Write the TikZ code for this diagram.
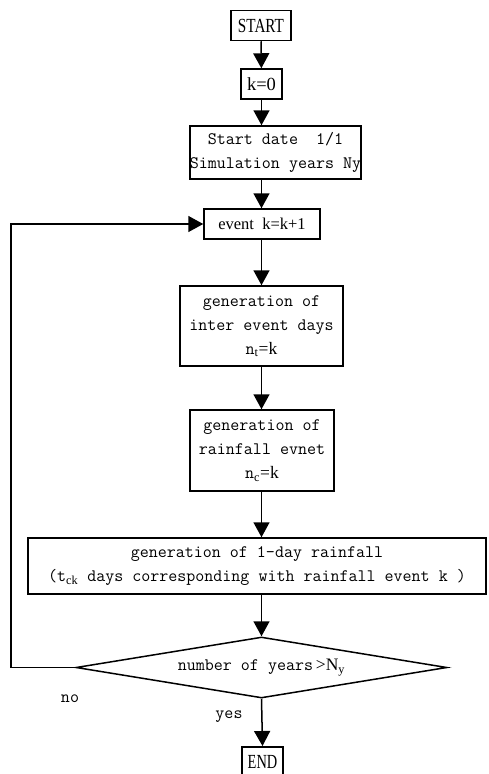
\documentclass[tikz,border=0pt]{standalone}
\usepackage{fontspec}
\newfontfamily\serif{Liberation Serif}
\usetikzlibrary{arrows.meta,shapes.geometric}
\begin{document}
\begin{tikzpicture}[x=1pt,y=-1pt,line width=1.5pt,
  box/.style={draw,inner sep=0pt,align=center,font=\ttfamily\fontsize{17.5}{24}\selectfont},
  sbox/.style={draw,inner sep=0pt,align=center,font=\serif\fontsize{16.5}{18}\selectfont},
  tbox/.style={sbox,font=\serif\fontsize{20}{20}\selectfont},
  arr/.style={-{Triangle[width=16pt,length=15pt]}},
  lbl/.style={font=\ttfamily\fontsize{17.5}{18}\selectfont,inner sep=0pt}]
\useasboundingbox (0,0) rectangle (488,774);
\node[tbox,minimum width=60pt,minimum height=30pt] (start) at (261,25.5) {\scalebox{0.76}[1]{START}};
\node[sbox,minimum width=41pt,minimum height=30pt,font=\serif\fontsize{18.5}{18}\selectfont] (k0) at (261.5,84) {k=0};
\node[box,minimum width=165pt,minimum height=53pt] (sd) at (275.5,152.5) {Start date\ \ 1/1\\Simulation years Ny};
\node[sbox,minimum width=116pt,minimum height=30pt] (ev) at (262,224) {event\ \ k=k+1};
\node[box,minimum width=163pt,minimum height=80pt] (g1) at (261.5,326) {generation of\\inter event days\\n{\serif\textsubscript{t}}{\serif =k}};
\node[box,minimum width=144pt,minimum height=81pt] (g2) at (262,450.5) {generation of\\rainfall evnet\\n{\serif\textsubscript{c}}{\serif =k}};
\node[box,minimum width=458pt,minimum height=56pt] (big) at (257,566) {generation of 1-day rainfall\\(t{\serif\textsubscript{ck}} days corresponding with rainfall event k )};
\node[draw,diamond,inner sep=0pt,minimum width=371pt,minimum height=61pt,aspect=6,font=\ttfamily\fontsize{17.5}{18}\selectfont] (dec) at (261.5,667.5) {number of years{\serif\,>}{\serif N\textsubscript{y}}};
\node[tbox,minimum width=41pt,minimum height=31pt,anchor=north] (end) at (262.5,746) {\scalebox{0.72}[1]{END}};
\coordinate (c1) at (11,667.5);
\coordinate (c2) at (11,224);
\draw[arr] (start) -- (k0);
\draw[arr] (k0) -- (k0 |- sd.north);
\draw[arr] (k0 |- sd.south) -- (k0 |- ev.north);
\draw[arr] (k0 |- ev.south) -- (k0 |- g1.north);
\draw[arr] (k0 |- g1.south) -- (k0 |- g2.north);
\draw[arr] (k0 |- g2.south) -- (k0 |- big.north);
\draw[arr] (k0 |- big.south) -- (dec.north);
\draw[arr] (dec.south) -- (end.north);
\draw[arr] (dec.west) -- (c1) -- (c2) -- (ev.west);
\node[lbl] (no) at (70,699) {no};
\node[lbl] (yes) at (229,717) {yes};
\end{tikzpicture}
\end{document}
